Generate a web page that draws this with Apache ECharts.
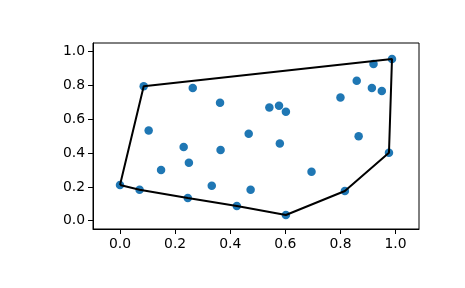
<!DOCTYPE html>
<html><head><meta charset="utf-8">
<script src="https://cdn.jsdelivr.net/npm/echarts@6/dist/echarts.min.js"></script>
<style>html,body{margin:0;padding:0;background:#fff}#c{width:465px;height:288px}</style>
</head><body><div id="c"></div>
<script>
const xs = [0.086,0.264,0.363,0.104,0.467,0.987,0.920,0.859,0.914,0.950,0.800,0.542,0.577,0.602,0.866,0.231,0.365,0.250,0.149,0.000,0.071,0.333,0.474,0.246,0.424,0.580,0.976,0.695,0.816,0.602];
const ys = [0.795,0.785,0.698,0.533,0.515,0.957,0.927,0.828,0.785,0.767,0.728,0.669,0.680,0.645,0.499,0.436,0.418,0.343,0.300,0.211,0.183,0.207,0.183,0.134,0.087,0.456,0.402,0.290,0.176,0.034];
const hullIdx = [19,20,23,24,29,28,26,5,0,19];
const ticks = [0,0.2,0.4,0.6,0.8,1.0];

const pts = xs.map((x,i)=>[x,ys[i]]);
const hull = hullIdx.map(i=>[xs[i],ys[i]]);
const font = {fontFamily:'DejaVu Sans',fontSize:13.9,color:'#000'};
function axis(min,max){
  return {type:'value',min:min,max:max,
    splitLine:{show:false},
    axisLine:{show:true,onZero:false,lineStyle:{color:'#000',width:1}},
    axisTick:{show:true,length:5,customValues:ticks,lineStyle:{color:'#000',width:1}},
    axisLabel:Object.assign({customValues:ticks,margin:8,formatter:v=>v.toFixed(1)},font)};
}
const chart = echarts.init(document.getElementById('c'),null,{renderer:'canvas'});
chart.setOption({
  animation:false,
  backgroundColor:'#fff',
  grid:{left:93,right:46,top:43,bottom:59,show:true,borderColor:'#000',borderWidth:1,backgroundColor:'transparent'},
  xAxis:axis(-0.098,1.085),
  yAxis:axis(-0.049,1.051),
  series:[
    {type:'scatter',data:pts,symbolSize:8.5,itemStyle:{color:'#1f77b4',opacity:1},z:2},
    {type:'line',data:hull,symbol:'none',lineStyle:{color:'#000',width:2},z:3}
  ]
});
</script></body></html>
